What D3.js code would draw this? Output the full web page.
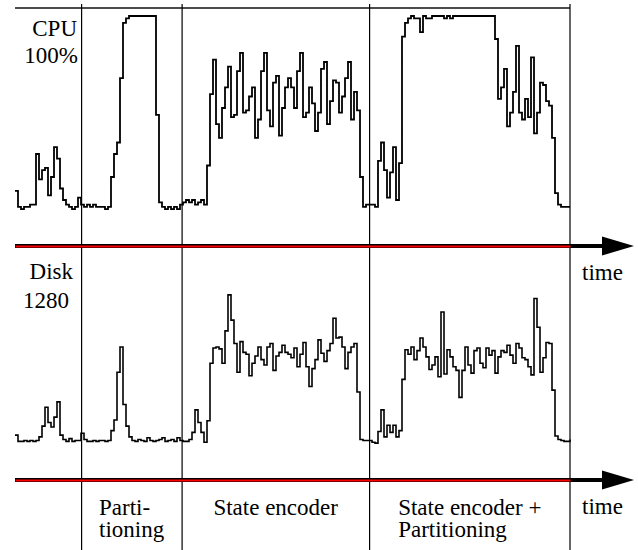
<!DOCTYPE html>
<html>
<head>
<meta charset="utf-8">
<script src="https://cdn.jsdelivr.net/npm/d3@7/dist/d3.min.js"></script>
<style>
    body { margin: 0; background: #fff; }
    svg text {
        font-family: "Liberation Serif", "Times New Roman", serif;
        font-size: 23px;
        fill: #000;
    }
</style>
</head>
<body>
<script>
// CPU load in %, one sample per time step
const cpuLoad = [
    24, 17, 16, 17, 17, 18, 18, 40, 29, 33, 34, 22, 30, 43, 38, 25, 20, 18, 17, 16, 17, 21,
    18, 17, 18, 17, 18, 17, 17, 17, 16, 17, 30, 40, 45, 73,
    97, 99, 100, 100, 100, 100, 100, 100, 100, 100, 100, 57, 19,
    17, 16, 17, 16, 17, 16, 18, 19, 20, 19, 20, 18, 19, 20, 18,
    35, 66, 81, 53, 47, 60, 69, 78, 56, 57, 76, 84, 58, 59, 65, 69, 47, 55, 76, 84,
    59, 52, 71, 74, 48, 60, 69, 73, 69, 60, 76, 84, 56, 58, 69, 62, 50, 58, 77, 80,
    53, 63, 72, 71, 58, 65, 73, 80, 55, 67, 59,
    30, 17, 18, 18, 18, 17, 37, 45, 33, 21, 32, 43, 20, 36,
    91, 97, 99, 100, 99, 99, 93, 100, 99, 99, 100, 100, 100, 100, 99, 100, 99,
    100, 100, 100, 100, 100, 100, 100, 100, 100, 100, 100, 100, 100, 100,
    90, 64, 69, 77, 52, 58, 67, 87, 58, 55, 64, 56, 82, 49, 58, 71, 70, 63, 61, 47,
    23, 18, 17, 17, 17, 17,
];

// disk traffic, same time steps
const diskIO = [
    250, 215, 215, 220, 215, 220, 215, 220, 240, 300, 405, 320, 295, 350, 435, 250, 225, 215, 230, 215, 220, 220,
    260, 225, 215, 215, 220, 215, 220, 220, 215, 220, 275, 334, 600, 740, 420, 300,
    240, 220, 215, 225, 220, 215, 235, 220, 215, 220, 225, 235, 215, 220, 225, 215, 235, 220, 215, 215, 225,
    265, 390, 320, 265, 210, 330, 650, 735, 740, 730, 650, 830, 1030, 890, 760, 600, 770, 710, 700, 580,
    650, 690, 740, 670, 640, 740, 760, 610, 690, 710, 750, 710, 700, 680, 735, 630, 700, 765, 630, 520,
    620, 670, 780, 705, 660, 720, 760, 900, 790, 795, 740, 620, 710, 740, 760, 490,
    225, 220, 220, 220, 210, 205, 270, 390, 240, 305, 265, 305, 240, 275,
    560, 725, 700, 740, 670, 720, 790, 740, 685, 615, 640, 685, 575, 935, 590, 725, 685, 630, 610, 460,
    610, 740, 640, 595, 720, 735, 650, 625, 735, 695, 720, 595, 685, 720, 710, 750, 695, 650, 760, 735,
    680, 670, 630, 585, 1010, 850, 600, 680, 765, 760, 500, 245, 225, 220, 215, 215, 225,
];

// phase boundaries in time steps
const phaseBounds = [22.2, 55.7, 118.2, 185];
const phaseLabels = [["Parti-", "tioning"], ["State encoder"], ["State encoder +", "Partitioning"]];
const cpuLabel = ["CPU", "100%"];
const diskLabel = ["Disk", "1280"];
const cpuMax = 100;
const diskMax = 1280;

const width = 638;
const height = 550;

const svg = d3.select("body").append("svg")
    .attr("width", width)
    .attr("height", height);

const x = d3.scaleLinear().domain([0, cpuLoad.length - 1]).range([15, 570]);
const yCpu = d3.scaleLinear().domain([0, cpuMax]).range([246, 16]);
const yDisk = d3.scaleLinear().domain([0, diskMax]).range([480, 250]);

// frame line on top
svg.append("line")
    .attr("x1", x.range()[0]).attr("x2", x.range()[1])
    .attr("y1", 8).attr("y2", 8)
    .attr("stroke", "#111").attr("stroke-width", 1.6);

// phase separators
svg.append("g")
    .selectAll("line")
    .data(phaseBounds)
    .join("line")
    .attr("x1", (d) => x(d)).attr("x2", (d) => x(d))
    .attr("y1", 4).attr("y2", height)
    .attr("stroke", "#000").attr("stroke-width", 1.2);

// time axis with arrow, drawn for both panels
function timeAxis(yPos) {
    const g = svg.append("g");
    g.append("line")
        .attr("x1", x.range()[0]).attr("x2", 606)
        .attr("y1", yPos).attr("y2", yPos)
        .attr("stroke", "#000").attr("stroke-width", 4);
    g.append("path")
        .attr("d", `M602,${yPos - 9.5} L634,${yPos} L602,${yPos + 9.5} Z`)
        .attr("fill", "#000");
    g.append("g")
        .attr("transform", `translate(0,${yPos})`)
        .call(d3.axisBottom(x).tickValues([]).tickSizeOuter(0))
        .call((a) => a.select(".domain").attr("stroke", "#ff0000").attr("stroke-width", 2));
    g.append("text")
        .attr("x", 582).attr("y", yPos + 34)
        .text("time");
}
timeAxis(yCpu(0));
timeAxis(yDisk(0));

// traces
const cpuLine = d3.line()
    .x((d, i) => x(i))
    .y((d) => yCpu(d))
    .curve(d3.curveStepAfter);
const diskLine = d3.line()
    .x((d, i) => x(i))
    .y((d) => yDisk(d))
    .curve(d3.curveStepAfter);

svg.append("path")
    .attr("d", cpuLine(cpuLoad))
    .attr("fill", "none")
    .attr("stroke", "#000")
    .attr("stroke-width", 1.8);
svg.append("path")
    .attr("d", diskLine(diskIO))
    .attr("fill", "none")
    .attr("stroke", "#000")
    .attr("stroke-width", 1.6);

// panel labels
function panelLabel(lines, right, y0, gap) {
    svg.append("text")
        .attr("text-anchor", "end")
        .selectAll("tspan")
        .data(lines)
        .join("tspan")
        .attr("x", (d, i) => right[i])
        .attr("y", (d, i) => y0 + i * gap)
        .text((d) => d);
}
panelLabel(cpuLabel, [77, 78], 36, 27);
panelLabel(diskLabel, [73, 69], 279, 29);

// phase labels under the lower axis, left aligned block centred in its phase
phaseLabels.forEach((lines, k) => {
    const left = x(phaseBounds[k]);
    const right = x(phaseBounds[k + 1]);
    const t = svg.append("text");
    t.selectAll("tspan")
        .data(lines)
        .join("tspan")
        .attr("x", 0)
        .attr("y", (d, i) => 515 + i * 22)
        .text((d) => d);
    const w = t.node().getBBox().width;
    t.attr("transform", `translate(${(left + right) / 2 - w / 2},0)`);
});
</script>
</body>
</html>
